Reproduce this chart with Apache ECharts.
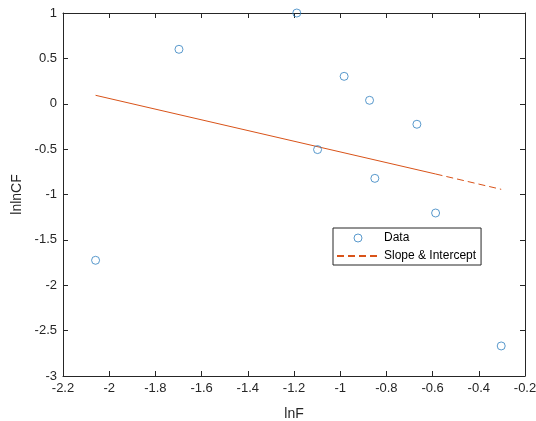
<!DOCTYPE html>
<html>
<head>
<meta charset="utf-8">
<script src="https://cdn.jsdelivr.net/npm/echarts@6/dist/echarts.min.js"></script>
<style>
  html, body { margin: 0; padding: 0; background: #fff; }
  #chart { width: 536px; height: 421px; }
</style>
</head>
<body>
<div id="chart"></div>
<script>
// Observed points
const lnF    = [-2.059, -1.698, -1.188, -1.098, -0.983, -0.873, -0.850, -0.668, -0.587, -0.303];
const lnlnCF = [-1.725,  0.600,  1.000, -0.505,  0.302,  0.038, -0.822, -0.226, -1.204, -2.669];

// Fitted line: solid over the fitted span, dashed extension to the last point
const fitSolidX = [-2.059, -0.587];
const fitSolidY = [0.093, -0.774];
const fitDashX  = [-0.587, -0.303];
const fitDashY  = [-0.774, -0.943];

const xLabel = 'lnF';
const yLabel = 'lnlnCF';
const legendNames = ['Data', 'Slope & Intercept'];

const FONT = '"Liberation Sans", Arial, Helvetica, sans-serif';
const INK = '#262626';
const BLUE = '#2f7fbf';
const ORANGE = '#D95319';

const fmt = v => String(+(+v).toFixed(1));

const pairs = (xs, ys) => xs.map((x, i) => [x, ys[i]]);

const axisCommon = {
  axisLine: { show: true, onZero: false, lineStyle: { color: INK, width: 1 } },
  axisTick: { show: true, inside: true, length: 5, lineStyle: { color: INK } },
  splitLine: { show: false }
};

const chart = echarts.init(document.getElementById('chart'), null, { renderer: 'canvas' });
chart.setOption({
  animation: false,
  backgroundColor: '#fff',
  grid: { left: 63, right: 11, top: 13, bottom: 45, containLabel: false, outerBoundsMode: 'none' },
  xAxis: [
    Object.assign({
      type: 'value', position: 'bottom', min: -2.2, max: -0.2, interval: 0.2,
      name: xLabel, nameLocation: 'middle', nameGap: 31,
      nameTextStyle: { fontFamily: FONT, fontSize: 14, color: INK },
      axisLabel: { fontFamily: FONT, fontSize: 13, color: INK, margin: 6, formatter: fmt }
    }, axisCommon),
    Object.assign({
      type: 'value', position: 'top', min: -2.2, max: -0.2, interval: 0.2,
      axisLabel: { show: false }
    }, axisCommon)
  ],
  yAxis: [
    Object.assign({
      type: 'value', position: 'left', min: -3, max: 1, interval: 0.5,
      name: yLabel, nameLocation: 'middle', nameGap: 36,
      nameTextStyle: { fontFamily: FONT, fontSize: 14, color: INK },
      axisLabel: { fontFamily: FONT, fontSize: 13, color: INK, margin: 6, formatter: fmt }
    }, axisCommon),
    Object.assign({
      type: 'value', position: 'right', min: -3, max: 1, interval: 0.5,
      axisLabel: { show: false }
    }, axisCommon)
  ],
  legend: {
    data: [
      { name: legendNames[0], itemStyle: { color: 'rgba(255,255,255,0)', borderColor: BLUE, borderWidth: 1 } },
      { name: legendNames[1], itemStyle: { color: 'rgba(0,0,0,0)', borderWidth: 0, opacity: 0 } }
    ],
    orient: 'vertical',
    left: 333, top: 228,
    padding: [3, 5, 2, 3],
    itemGap: 4,
    itemWidth: 42, itemHeight: 8,
    backgroundColor: '#fff',
    borderColor: INK, borderWidth: 1, borderRadius: 0,
    textStyle: { fontFamily: FONT, fontSize: 12, color: '#000', lineHeight: 14 }
  },
  series: [
    {
      name: legendNames[0],
      type: 'scatter',
      data: pairs(lnF, lnlnCF),
      symbol: 'circle',
      symbolSize: 8,
      itemStyle: { color: 'rgba(255,255,255,0)', borderColor: BLUE, borderWidth: 1 },
      z: 3
    },
    {
      name: legendNames[1],
      type: 'line',
      data: pairs(fitDashX, fitDashY),
      symbol: 'none',
      lineStyle: { color: ORANGE, width: 1, type: [7, 4] },
      itemStyle: { color: ORANGE },
      z: 2
    },
    {
      name: 'fit',
      type: 'line',
      data: pairs(fitSolidX, fitSolidY),
      symbol: 'none',
      lineStyle: { color: ORANGE, width: 1, type: 'solid' },
      itemStyle: { color: ORANGE },
      z: 2
    }
  ]
});
</script>
</body>
</html>
